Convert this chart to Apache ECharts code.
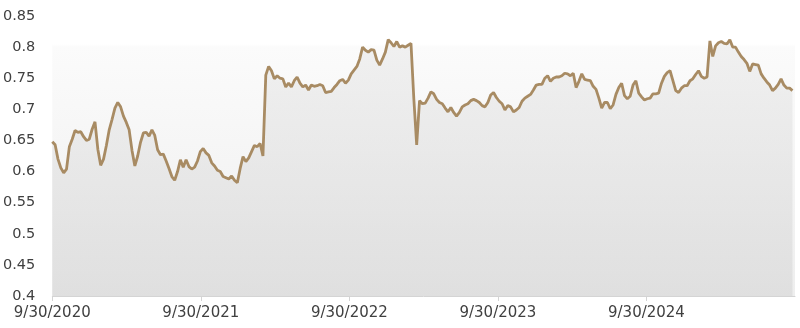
<!DOCTYPE html>
<html>
<head>
<meta charset="utf-8">
<script src="https://cdn.jsdelivr.net/npm/echarts@6/dist/echarts.min.js"></script>
<style>
html,body{margin:0;padding:0;background:#fff;}
#chart{width:800px;height:328px;}
</style>
</head>
<body>
<div id="chart"></div>
<script>
// Weekly observations starting 9/30/2020 (one value per week)
var startDate = '2020-09-30';
var stepDays = 7;
var weeklyValues = [
  0.648,0.643,0.620,0.606,0.598,0.604,0.640,0.652,0.666,0.663,
  0.664,0.656,0.650,0.652,0.668,0.680,0.636,0.610,0.620,0.642,
  0.667,0.684,0.702,0.711,0.704,0.689,0.679,0.667,0.634,0.609,
  0.625,0.647,0.662,0.663,0.657,0.667,0.658,0.635,0.627,0.628,
  0.617,0.605,0.592,0.586,0.600,0.619,0.607,0.619,0.608,0.604,
  0.607,0.617,0.632,0.637,0.630,0.626,0.614,0.609,0.602,0.600,
  0.592,0.590,0.588,0.593,0.586,0.582,0.605,0.624,0.616,0.622,
  0.632,0.642,0.640,0.645,0.625,0.755,0.769,0.762,0.749,0.754,
  0.750,0.749,0.736,0.742,0.736,0.746,0.752,0.742,0.736,0.739,
  0.731,0.739,0.737,0.738,0.740,0.738,0.727,0.728,0.729,0.735,
  0.740,0.746,0.748,0.742,0.747,0.757,0.763,0.769,0.781,0.800,
  0.795,0.792,0.796,0.795,0.779,0.771,0.781,0.792,0.812,0.807,
  0.801,0.809,0.800,0.802,0.800,0.803,0.806,0.717,0.643,0.714,
  0.709,0.710,0.718,0.728,0.725,0.716,0.711,0.709,0.702,0.696,
  0.703,0.695,0.689,0.695,0.704,0.707,0.709,0.714,0.716,0.714,
  0.711,0.706,0.704,0.711,0.723,0.727,0.719,0.713,0.709,0.699,
  0.706,0.704,0.696,0.699,0.703,0.713,0.718,0.721,0.724,0.731,
  0.739,0.740,0.740,0.750,0.754,0.745,0.750,0.752,0.752,0.754,
  0.758,0.757,0.754,0.758,0.735,0.745,0.757,0.748,0.747,0.746,
  0.737,0.732,0.718,0.702,0.711,0.711,0.701,0.707,0.724,0.735,
  0.742,0.722,0.717,0.721,0.739,0.746,0.726,0.720,0.715,0.717,
  0.718,0.725,0.725,0.726,0.742,0.753,0.759,0.762,0.746,0.730,
  0.727,0.734,0.738,0.738,0.746,0.749,0.756,0.762,0.753,0.750,
  0.752,0.810,0.785,0.802,0.807,0.809,0.806,0.805,0.812,0.800,
  0.800,0.792,0.785,0.780,0.774,0.761,0.773,0.772,0.771,0.757,
  0.750,0.744,0.739,0.730,0.734,0.740,0.749,0.739,0.734,0.734,
  0.730
];
var xTickLabels = ['9/30/2020','9/30/2021','9/30/2022','9/30/2023','9/30/2024','9/30/2025'];
var daysPerYear = 365.25;
var yMin = 0.4, yMax = 0.85, yStep = 0.05;

var seriesData = weeklyValues.map(function (v, i) { return [i * stepDays, v]; });

var chart = echarts.init(document.getElementById('chart'), null, {renderer: 'canvas'});
chart.setOption({
  animation: false,
  backgroundColor: '#ffffff',
  grid: {
    left: 52, right: 5, top: 16, bottom: 32,
    show: true, borderWidth: 0,
    backgroundColor: new echarts.graphic.LinearGradient(0, 0, 0, 1, [
      {offset: 0, color: '#ffffff'},
      {offset: 0.1, color: '#ffffff'},
      {offset: 0.11, color: '#fbfbfb'},
      {offset: 1, color: '#eeeeee'}
    ])
  },
  xAxis: {
    type: 'value',
    min: 0,
    max: (xTickLabels.length - 1) * daysPerYear,
    interval: daysPerYear,
    splitLine: {show: false},
    axisLine: {show: true, lineStyle: {color: '#d4d4d4', width: 1}},
    axisTick: {show: true, length: 5, lineStyle: {color: '#d4d4d4'}},
    axisLabel: {
      showMaxLabel: false,
      margin: 10,
      color: '#404040',
      fontFamily: 'DejaVu Sans',
      fontSize: 15,
      formatter: function (v) { return xTickLabels[Math.round(v / daysPerYear)] || ''; }
    }
  },
  yAxis: {
    type: 'value',
    min: yMin, max: yMax, interval: yStep,
    splitLine: {show: false},
    axisLine: {show: false},
    axisTick: {show: false},
    axisLabel: {
      margin: 17,
      color: '#404040',
      fontFamily: 'DejaVu Sans',
      fontSize: 14.5,
      formatter: function (v) { return String(+v.toFixed(2)); }
    }
  },
  series: [{
    type: 'line',
    data: seriesData,
    symbol: 'none',
    smooth: false,
    lineStyle: {color: '#a88b63', width: 2.8},
    areaStyle: {
      color: new echarts.graphic.LinearGradient(0, 0, 0, 1, [
        {offset: 0, color: '#ececec'},
        {offset: 1, color: '#d9d9d9'}
      ])
    }
  }]
});
</script>
</body>
</html>
